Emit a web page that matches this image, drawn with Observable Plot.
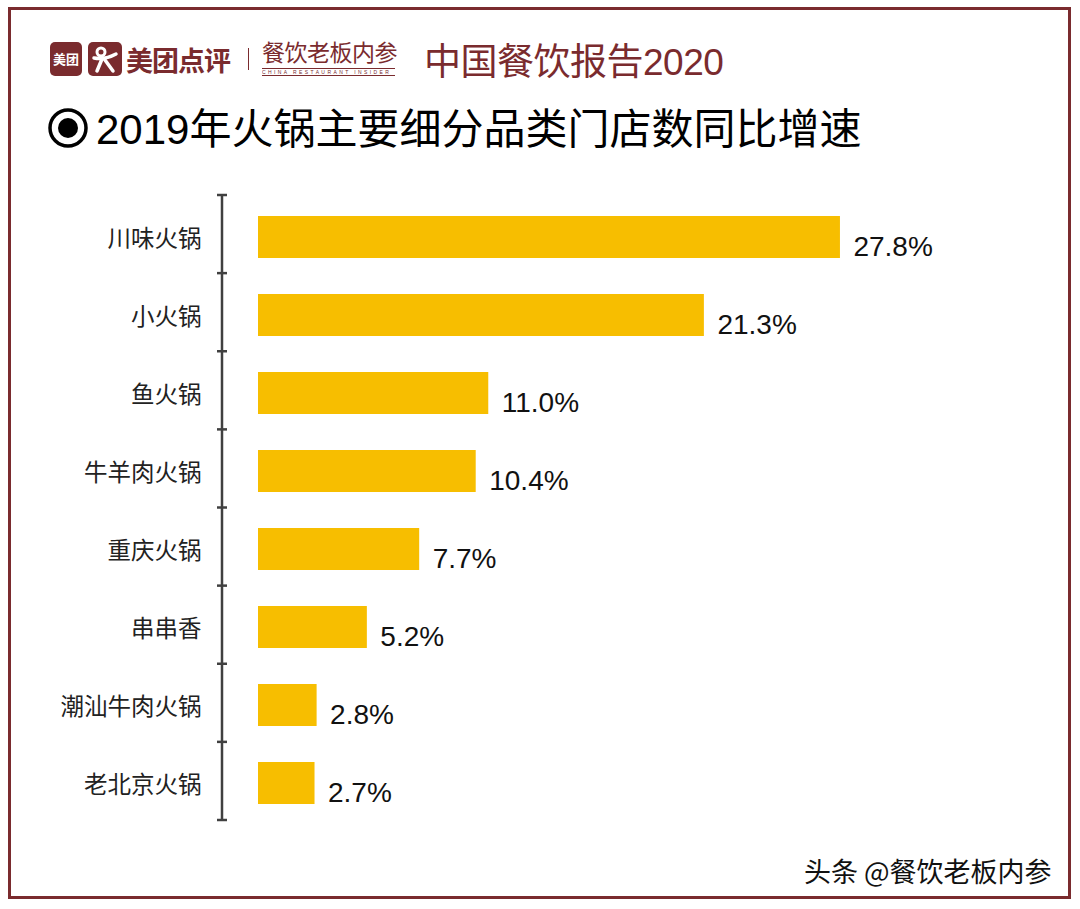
<!DOCTYPE html>
<html><head><meta charset="utf-8">
<script src="https://cdn.jsdelivr.net/npm/d3@7"></script>
<script src="https://cdn.jsdelivr.net/npm/@observablehq/plot@0.6"></script>
<style>
body{margin:0;background:#fff;}
#wrap{position:relative;width:1080px;height:909px;overflow:hidden;font-family:"Liberation Sans","Noto Sans CJK SC",sans-serif;}
#frame{position:absolute;left:8px;top:7px;width:1057px;height:886px;border:3px solid #7a2b2e;}
.abs{position:absolute;white-space:nowrap;}
#chart{position:absolute;left:0;top:0;}
</style></head>
<body><div id="wrap">
<div id="frame"></div>
<div class="abs" style="left:50px;top:42px;width:32px;height:34px;background:#7a2b2e;border-radius:5px;color:#fff;font:bold 13px 'Noto Sans CJK SC';line-height:34px;text-align:center;">美团</div>
<svg class="abs" style="left:88px;top:42px" width="34" height="34" viewBox="0 0 34 34">
<rect width="34" height="34" rx="5" fill="#7a2b2e"/>
<circle cx="13" cy="10" r="4" fill="none" stroke="#fff" stroke-width="3"/>
<path d="M6 16 Q17 18 28 12 M14 17 L9 29 M17 18 L25 29" stroke="#fff" stroke-width="3.5" fill="none" stroke-linecap="round"/>
</svg>
<div class="abs" style="left:126px;top:40px;font:bold 27px 'Noto Sans CJK SC';color:#7a2b2e;letter-spacing:-1px;">美团点评</div>
<div class="abs" style="left:248px;top:48px;width:1px;height:22px;background:#7a2b2e;"></div>
<div class="abs" style="left:262px;top:35px;font:23px 'Noto Sans CJK SC';color:#7a2b2e;letter-spacing:-0.5px;line-height:32px;">餐饮老板内参</div>
<div class="abs" style="left:262px;top:68px;width:133px;border-top:1px solid #7a2b2e;border-bottom:1px solid #7a2b2e;font:5px 'Liberation Sans';color:#7a2b2e;letter-spacing:2.4px;line-height:6px;overflow:hidden;">CHINA RESTAURANT INSIDER</div>
<div class="abs" style="left:424px;top:36px;font:37px 'Noto Sans CJK SC';color:#7a2b2e;letter-spacing:-0.5px;line-height:46px;">中国餐饮报告<span style="font-family:'Liberation Sans'">2020</span></div>
<svg class="abs" style="left:47px;top:107px" width="42" height="42"><circle cx="21" cy="21" r="18" fill="none" stroke="#000" stroke-width="3.5"/><circle cx="21" cy="21" r="10" fill="#000"/></svg>
<div class="abs" style="left:96px;top:96px;font:42px 'Noto Sans CJK SC';color:#000;line-height:60px;letter-spacing:0px;"><span style="font-family:'Liberation Sans'">2019</span>年火锅主要细分品类门店数同比增速</div>
<div class="abs" style="left:804px;top:852px;font:27px 'Noto Sans CJK SC';color:#111;text-shadow:1px 1px 0 #fff,-1px -1px 0 #fff,1px -1px 0 #fff,-1px 1px 0 #fff;line-height:38px;">头条 @餐饮老板内参</div>
<div id="chart"></div>
</div>
<script>
const categories = ["川味火锅","小火锅","鱼火锅","牛羊肉火锅","重庆火锅","串串香","潮汕牛肉火锅","老北京火锅"];
const growth = [27.8, 21.3, 11.0, 10.4, 7.7, 5.2, 2.8, 2.7];
const data = categories.map((c, i) => ({category: c, value: growth[i]}));

// axis line with tick marks at the category boundaries (evenly spaced along the plot frame)
function boundaryTicks(index, scales, values, dims) {
  const top = dims.marginTop, bottom = dims.height - dims.marginBottom, x0 = dims.marginLeft;
  const n = categories.length;
  const edges = d3.range(n + 1).map(i => top + (i * (bottom - top)) / n);
  const g = d3.create("svg:g").attr("stroke", "#404040").attr("stroke-width", 2.5);
  for (const e of edges) g.append("line").attr("x1", x0 - 5).attr("x2", x0 + 5).attr("y1", e).attr("y2", e);
  g.append("line").attr("x1", x0).attr("x2", x0).attr("y1", top).attr("y2", bottom);
  return g.node();
}

const chart = Plot.plot({
  width: 1080,
  height: 909,
  marginTop: 195,
  marginBottom: 89,
  marginLeft: 222,
  marginRight: 194,
  style: {fontFamily: "'Liberation Sans','Noto Sans CJK SC',sans-serif", background: "transparent", color: "#222"},
  x: {domain: [0, 30], axis: null, insetLeft: 36},
  y: {domain: categories, range: [196, 825], paddingInner: 0.46, paddingOuter: 0.23},
  marks: [
    Plot.barX(data, {x: "value", y: "category", fill: "#f7be00"}),
    Plot.text(data, {x: "value", y: "category", text: d => d.value.toFixed(1) + "%", textAnchor: "start", dx: 13, dy: 10, fontSize: 28, fill: "#111"}),
    Plot.axisY({tickSize: 0, tickPadding: 21, fontSize: 23.5, dy: 2, label: null, fill: "#222"}),
    boundaryTicks
  ]
});
document.getElementById("chart").appendChild(chart);
</script>
</body></html>
